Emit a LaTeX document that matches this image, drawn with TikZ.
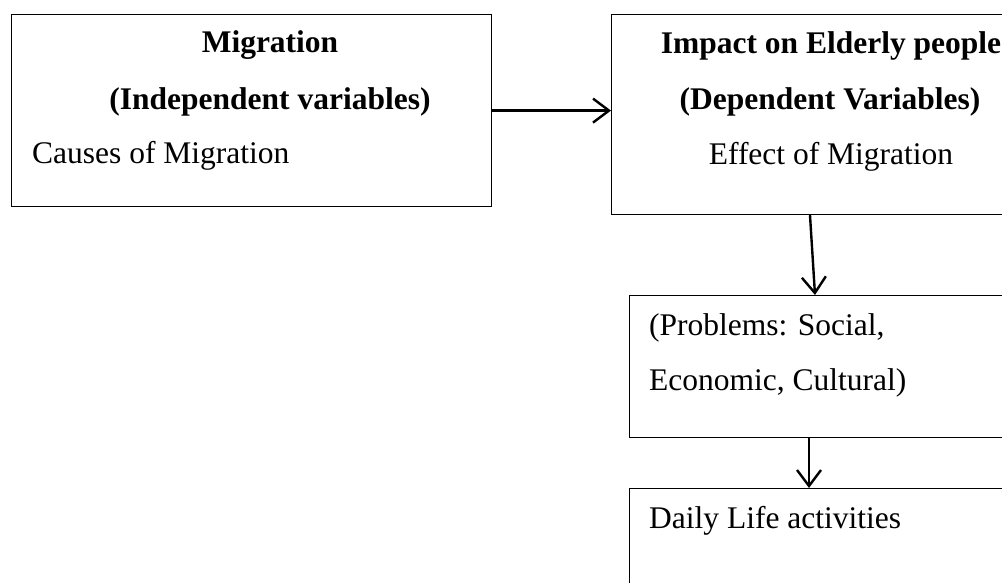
\documentclass[tikz,border=0pt]{standalone}
\usepackage{fontspec}
\setmainfont{Liberation Serif}
\usepackage{tikz}
\usetikzlibrary{positioning,calc,arrows.meta}

\tikzset{
    box/.style={draw, rectangle, line width=1.2pt, anchor=north west, inner sep=0pt},
    txt/.style={inner sep=0pt, anchor=base, font=\fontsize{31.5}{40}\selectfont},
    lefttxt/.style={txt, anchor=base west},
    arr/.style={line width=2.4pt, -{Straight Barb[length=16pt,width=24pt,line width=2.4pt]}}
}

\begin{document}
\begin{tikzpicture}[x=1pt,y=-1pt]
    \useasboundingbox (0,0) rectangle (1002,583);

    % Boxes
    \node [box, minimum width=480pt, minimum height=192pt] (mig) at (11,14) {};
    \node [box, minimum width=440pt, minimum height=200pt] (impact) at (611,14) {};
    \node [box, minimum width=420pt, minimum height=142pt] (probs) at (629,295) {};
    \node [box, minimum width=420pt, minimum height=120pt] (daily) at (629,488) {};

    % Texts
    \node [txt, font=\fontsize{31.5}{40}\selectfont\bfseries] (migtitle) at (270,53) {Migration};
    \node [txt, font=\fontsize{31.5}{40}\selectfont\bfseries] (indep) at (270,110) {(Independent variables)};
    \node [lefttxt] (causes) at (32,164) {Causes of Migration};
    \node [txt, font=\fontsize{31.5}{40}\selectfont\bfseries] (imptitle) at (831,54) {Impact on Elderly people};
    \node [txt, font=\fontsize{31.5}{40}\selectfont\bfseries] (dep) at (830,110) {(Dependent Variables)};
    \node [txt] (effect) at (831,165) {Effect of Migration};
    \node [lefttxt] (probsa) at (649,335) {(Problems: Social,};
    \node [lefttxt] (probsb) at (649,390) {Economic, Cultural)};
    \node [lefttxt] (dailytxt) at (649,528) {Daily Life activities};

    % Arrows
    \draw [arr] (mig.east) -- (impact.west |- mig.east);
    \draw [arr] ([xshift=199pt]impact.south west) -- ([xshift=186pt]probs.north west);
    \draw [arr] ([xshift=180pt]probs.south west) -- ([xshift=180pt]daily.north west);
\end{tikzpicture}
\end{document}
